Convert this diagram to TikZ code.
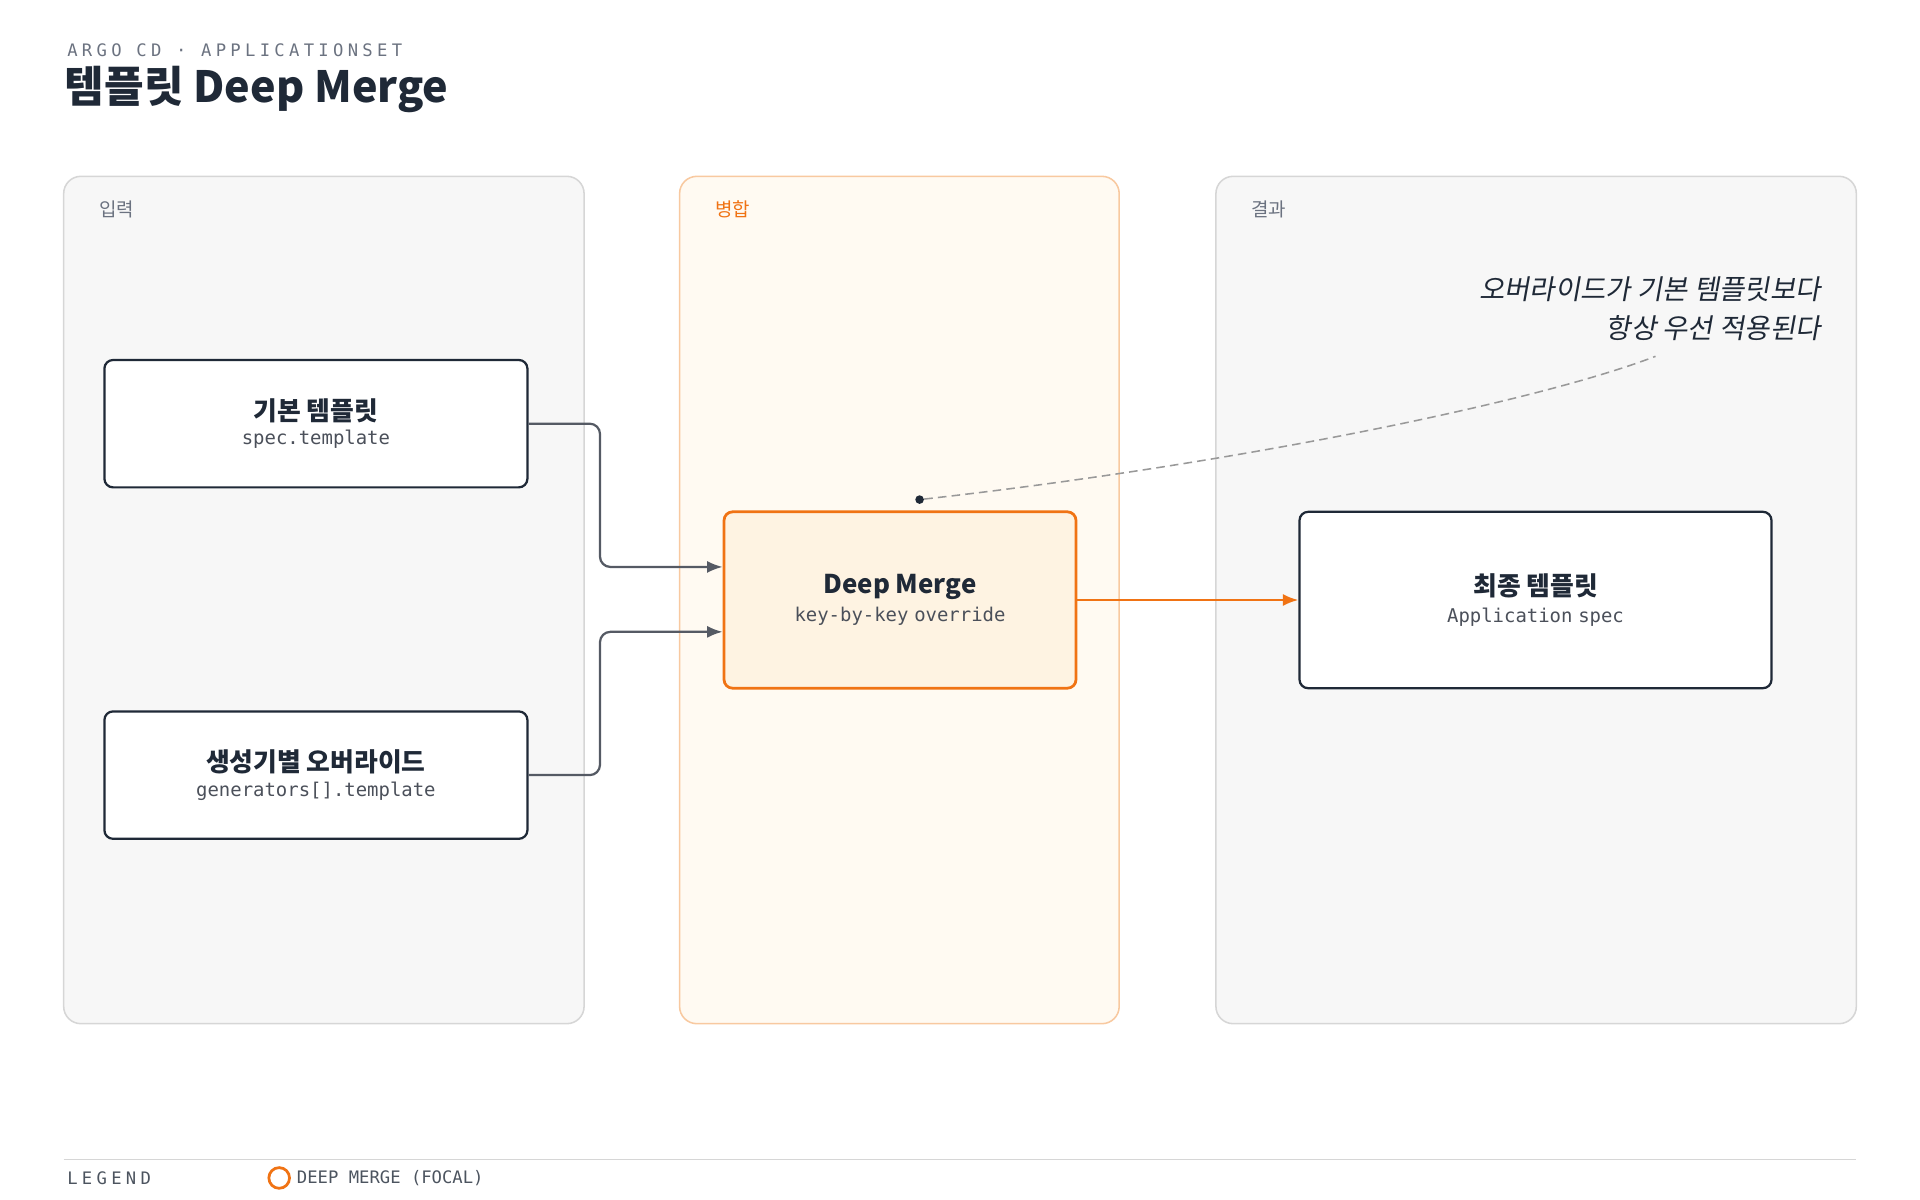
\documentclass[tikz,border=0pt]{standalone}
\usepackage{fontspec}
\setmainfont{Noto Sans CJK KR}
\setmonofont{DejaVu Sans Mono}
\newfontfamily\spacedmono[LetterSpace=25]{DejaVu Sans Mono}
\newfontfamily\slantkr[FakeSlant=0.18]{Noto Sans CJK KR}
\usetikzlibrary{arrows.meta}
\definecolor{inkDark}{RGB}{31, 41, 55}
\definecolor{inkGray}{RGB}{107, 114, 128}
\definecolor{lineGray}{RGB}{85, 90, 100}
\definecolor{panelGray}{RGB}{247, 247, 247}
\definecolor{panelEdge}{RGB}{214, 214, 214}
\definecolor{mergeOrange}{RGB}{240, 115, 20}
\definecolor{mergeFill}{RGB}{255, 250, 242}
\definecolor{mergeEdge}{RGB}{248, 201, 160}
\definecolor{focalFill}{RGB}{254, 243, 226}
\begin{document}
\begin{tikzpicture}[x=0.025cm, y=-0.025cm]
            % Styles
            \tikzstyle{panel} = [draw=panelEdge, fill=panelGray, line width=0.9pt, rounded corners=10pt]
            \tikzstyle{card} = [rectangle, draw=inkDark, fill=white, line width=1.3pt, rounded corners=5pt, align=center, text=inkDark]
            \tikzstyle{focal} = [card, draw=mergeOrange, fill=focalFill, line width=1.6pt]
            \tikzstyle{arrow} = [-{Latex[length=9pt,width=7pt]}, line width=1.3pt, lineGray, rounded corners=6pt]
            \tikzstyle{panellabel} = [anchor=west, font=\fontsize{11}{13}\selectfont, text=inkGray]

            \useasboundingbox (0,0) rectangle (1568,980);

            % Header
            \node[anchor=west, text=inkGray, font=\spacedmono\fontsize{10}{12}\selectfont] (kicker) at (50,41) {ARGO CD · APPLICATIONSET};
            \node[anchor=west, text=inkDark, font=\bfseries\fontsize{25}{30}\selectfont] (title) at (48,73) {템플릿 Deep Merge};

            % Panels
            \draw[panel] (52,144) rectangle (477,836);
            \draw[panel, draw=mergeEdge, fill=mergeFill] (555,144) rectangle (914,836);
            \draw[panel] (993,144) rectangle (1516,836);
            \node[panellabel] (inlabel) at (76,171) {입력};
            \node[panellabel, text=mergeOrange] (mergelabel) at (579,171) {병합};
            \node[panellabel] (outlabel) at (1017,171) {결과};

            % Nodes - explicit coordinates
            \node[card, text width=8.4cm, minimum height=2.6cm] (base) at (258,346)
                {{\bfseries\fontsize{15}{18}\selectfont 기본 템플릿}\\[2pt]{\ttfamily\fontsize{11}{13}\selectfont\color{inkGray!70!black} spec.template}};
            \node[card, text width=8.4cm, minimum height=2.6cm] (override) at (258,633)
                {{\bfseries\fontsize{15}{18}\selectfont 생성기별 오버라이드}\\[2pt]{\ttfamily\fontsize{11}{13}\selectfont\color{inkGray!70!black} generators[].template}};
            \node[focal, text width=6.95cm, minimum height=3.6cm] (merge) at (735,490)
                {{\bfseries\fontsize{15}{18}\selectfont Deep Merge}\\[4pt]{\ttfamily\fontsize{11}{13}\selectfont\color{inkGray!70!black} key-by-key override}};
            \node[card, text width=9.4cm, minimum height=3.6cm] (final) at (1254,490)
                {{\bfseries\fontsize{15}{18}\selectfont 최종 템플릿}\\[4pt]{\ttfamily\fontsize{11}{13}\selectfont\color{inkGray!70!black} Application spec}};

            % Arrows
            \draw[arrow] (base.east) -- (490,346) -- (490,463) -- (merge.west |- 0,463);
            \draw[arrow] (override.east) -- (490,633) -- (490,516) -- (merge.west |- 0,516);
            \draw[arrow, mergeOrange] (merge.east) -- (final.west);

            % Annotation
            \node[circle, fill=inkDark, inner sep=0pt, minimum size=5pt] (pin) at (751,408) {};
            \coordinate (notetip) at (1352,291);
            \draw[dashed, dash pattern=on 5pt off 3pt, line width=0.9pt, gray!80] (pin) .. controls (1000,380) and (1250,330) .. (notetip);
            \node[anchor=east, align=right, text=inkDark, font=\slantkr\fontsize{16}{23}\selectfont] (note) at (1492,252) {오버라이드가 기본 템플릿보다\\항상 우선 적용된다};

            % Legend
            \draw[panelEdge, line width=0.8pt] (52,947) -- (1516,947);
            \node[anchor=west, text=inkDark!80, font=\spacedmono\fontsize{10}{12}\selectfont] (legend) at (50,962) {LEGEND};
            \node[circle, draw=mergeOrange, line width=1.6pt, inner sep=0pt, minimum size=12pt] (legdot) at (228,962) {};
            \node[anchor=west, text=inkDark!80, font=\ttfamily\fontsize{10}{12}\selectfont] (legtext) at (legdot.east) {DEEP MERGE (FOCAL)};
        \end{tikzpicture}
\end{document}
